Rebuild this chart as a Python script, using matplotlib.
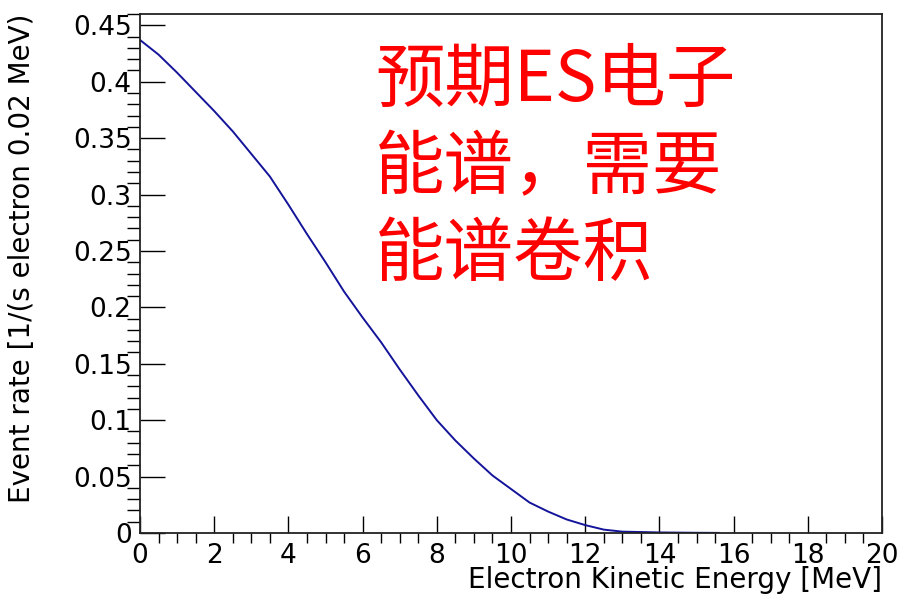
import matplotlib
matplotlib.use("Agg")
import matplotlib.pyplot as plt
from matplotlib.ticker import MultipleLocator, FormatStrFormatter

# spectrum (MeV, events / (s electron 0.02 MeV))
energy = [0.0, 0.5, 1.0, 1.5, 2.0, 2.5, 3.0, 3.5, 4.0, 4.5, 5.0, 5.5, 6.0, 6.5,
          7.0, 7.5, 8.0, 8.5, 9.0, 9.5, 10.0, 10.5, 11.0, 11.5, 12.0, 12.5,
          13.0, 14.0, 15.0, 15.6]
rate = [0.437, 0.424, 0.408, 0.391, 0.374, 0.356, 0.336, 0.316, 0.291, 0.265,
        0.240, 0.214, 0.191, 0.169, 0.145, 0.122, 0.100, 0.082, 0.066, 0.051,
        0.039, 0.027, 0.019, 0.012, 0.007, 0.003, 0.0012, 0.0005, 0.0002, 0.0001]

note_lines = ["预期ES电子", "能谱，需要", "能谱卷积"]

fig = plt.figure(figsize=(9.01, 6.0), dpi=100)
ax = fig.add_axes([140 / 901, 67 / 600, 742 / 901, 519 / 600])

ax.plot(energy, rate, color="#14149a", lw=1.4)

ax.set_xlim(0, 20)
ax.set_ylim(0, 0.46)
ax.xaxis.set_major_locator(MultipleLocator(2))
ax.xaxis.set_minor_locator(MultipleLocator(0.5))
ax.yaxis.set_major_locator(MultipleLocator(0.05))
ax.yaxis.set_minor_locator(MultipleLocator(0.01))
ax.yaxis.set_major_formatter(FormatStrFormatter("%g"))
ax.xaxis.set_major_formatter(FormatStrFormatter("%g"))

ax.tick_params(axis="both", direction="in", colors="black", labelsize=19,
               width=1.0, top=False, right=False)
ax.tick_params(axis="y", which="major", length=18, pad=6)
ax.tick_params(axis="y", which="minor", length=9.4, width=1.0)
ax.tick_params(axis="x", which="major", length=12.2, pad=7)
ax.tick_params(axis="x", which="minor", length=7.2, width=1.0)
for s in ax.spines.values():
    s.set_linewidth(1.3)
    s.set_color("#222222")

ax.set_xlabel("Electron Kinetic Energy [MeV]", fontsize=20, loc="right")
ax.set_ylabel("Event rate [1/(s electron 0.02 MeV)", fontsize=20, loc="top")
ax.xaxis.set_label_coords(1.0, -0.064)
ax.yaxis.set_label_coords(-0.14, 1.0)

for i, line in enumerate(note_lines):
    fig.text(375 / 901, 1 - (81 + 87 * i) / 600, line, color="red", fontsize=50,
             family=["Noto Sans CJK SC", "DejaVu Sans"], va="center", ha="left")

fig.savefig("out.png", dpi=100)
